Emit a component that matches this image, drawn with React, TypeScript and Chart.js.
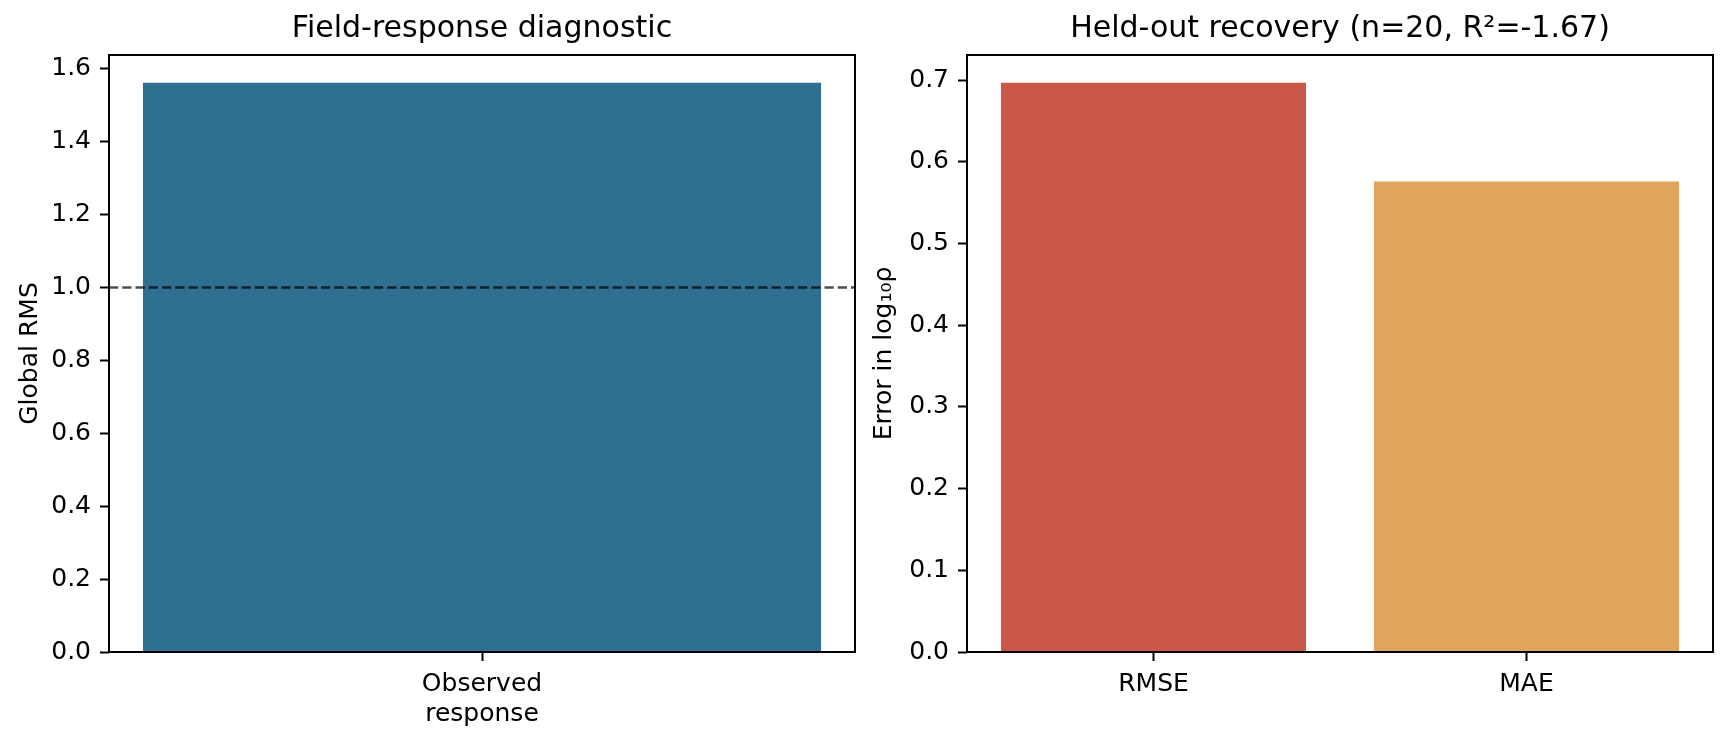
import { useEffect, useRef } from "react";
import { Chart, registerables } from "chart.js";
import type { ChartConfiguration, Plugin } from "chart.js";

Chart.register(...registerables);

// Left panel data
const LEFT_TITLE = "Field-response diagnostic";
const LEFT_CATEGORIES = [["Observed", "response"]];
const LEFT_VALUES = [1.562];
const LEFT_TICKS = [0, 0.2, 0.4, 0.6, 0.8, 1.0, 1.2, 1.4, 1.6];
const LEFT_MAX = 1.638;
const REFERENCE_RMS = 1.0;

// Right panel data
const RIGHT_TITLE = "Held-out recovery (n=20, R²=-1.67)";
const RIGHT_CATEGORIES = ["RMSE", "MAE"];
const RIGHT_VALUES = [0.697, 0.576];
const RIGHT_TICKS = [0, 0.1, 0.2, 0.3, 0.4, 0.5, 0.6, 0.7];
const RIGHT_MAX = 0.731;

const FONT = "'DejaVu Sans', sans-serif";
const H = 740;

// box around the plot area, like matplotlib spines
const framePlugin: Plugin<"bar"> = {
  id: "frame",
  afterDatasetsDraw(chart) {
    const { ctx, chartArea } = chart;
    ctx.save();
    ctx.strokeStyle = "#000";
    ctx.lineWidth = 2;
    ctx.strokeRect(
      chartArea.left,
      chartArea.top,
      chartArea.right - chartArea.left,
      chartArea.bottom - chartArea.top
    );
    ctx.restore();
  },
};

// dashed reference line (left panel only)
const refLinePlugin: Plugin<"bar"> = {
  id: "refLine",
  afterDatasetsDraw(chart) {
    const { ctx, chartArea } = chart;
    const y = chart.scales.y.getPixelForValue(REFERENCE_RMS);
    ctx.save();
    ctx.strokeStyle = "rgba(0,0,0,0.7)";
    ctx.lineWidth = 2.5;
    ctx.setLineDash([9.25, 4]);
    ctx.beginPath();
    ctx.moveTo(chartArea.left, y);
    ctx.lineTo(chartArea.right, y);
    ctx.stroke();
    ctx.restore();
  },
};

function makeConfig(opts: {
  title: string;
  labels: any[];
  values: number[];
  colors: string[];
  ticks: number[];
  max: number;
  yLabel: string;
  yAxisWidth: number;
  yLabelPad: number;
  rightPad: number;
  barPct: number;
  plugins: Plugin<"bar">[];
}): ChartConfiguration<"bar", number[], any> {
  return {
    type: "bar",
    data: {
      labels: opts.labels,
      datasets: [
        {
          data: opts.values,
          backgroundColor: opts.colors,
          borderWidth: 0,
          barPercentage: opts.barPct,
          categoryPercentage: 1,
        },
      ],
    },
    options: {
      animation: false,
      responsive: false,
      devicePixelRatio: 1,
      layout: { padding: { top: 11, left: 0, right: opts.rightPad, bottom: 0 } },
      plugins: {
        legend: { display: false },
        tooltip: { enabled: false },
        title: {
          display: true,
          text: opts.title,
          color: "#000",
          fullSize: false,
          font: { family: FONT, size: 30, weight: "normal" },
          padding: { top: 0, bottom: 8 },
        },
      },
      scales: {
        x: {
          offset: true,
          grid: {
            offset: false,
            drawOnChartArea: false,
            drawTicks: true,
            tickLength: 9,
            tickWidth: 2,
            tickColor: "#000",
          },
          border: { display: false },
          ticks: {
            color: "#000",
            font: { family: FONT, size: 25 },
            padding: 8,
            maxRotation: 0,
            autoSkip: false,
          },
          afterFit: (s: any) => {
            s.height = H - 652;
          },
        },
        y: {
          min: 0,
          max: opts.max,
          grid: {
            drawOnChartArea: false,
            drawTicks: true,
            tickLength: 9,
            tickWidth: 2,
            tickColor: "#000",
          },
          border: { display: false },
          ticks: {
            color: "#000",
            font: { family: FONT, size: 25 },
            padding: 9,
            callback: (v: any) => Number(v).toFixed(1),
          },
          afterBuildTicks: (axis: any) => {
            axis.ticks = opts.ticks.map((v) => ({ value: v }));
          },
          title: {
            display: true,
            text: opts.yLabel,
            color: "#000",
            font: { family: FONT, size: 25 },
            padding: { top: opts.yLabelPad, bottom: 0 },
          },
          afterFit: (s: any) => {
            s.width = opts.yAxisWidth;
          },
        },
      },
    },
    plugins: opts.plugins,
  };
}

function BarPanel(props: { width: number; config: ChartConfiguration<"bar", number[], any> }) {
  const ref = useRef<HTMLCanvasElement | null>(null);

  useEffect(() => {
    if (!ref.current) return;
    const chart = new Chart(ref.current, props.config);
    return () => chart.destroy();
  }, []);

  return (
    <canvas
      ref={ref}
      width={props.width}
      height={H}
      style={{ width: props.width, height: H, display: "block" }}
    />
  );
}

export default function App() {
  const left = makeConfig({
    title: LEFT_TITLE,
    labels: LEFT_CATEGORIES,
    values: LEFT_VALUES,
    colors: ["#2f7090"],
    ticks: LEFT_TICKS,
    max: LEFT_MAX,
    yLabel: "Global RMS",
    yAxisWidth: 109,
    yLabelPad: 15,
    rightPad: 860 - 855,
    barPct: 0.909,
    plugins: [refLinePlugin, framePlugin],
  });

  const right = makeConfig({
    title: RIGHT_TITLE,
    labels: RIGHT_CATEGORIES,
    values: RIGHT_VALUES,
    colors: ["#c9584a", "#e0a45a"],
    ticks: RIGHT_TICKS,
    max: RIGHT_MAX,
    yLabel: "Error in log₁₀ρ",
    yAxisWidth: 967 - 860,
    yLabelPad: 9,
    rightPad: 1730 - 1713,
    barPct: 0.818,
    plugins: [framePlugin],
  });

  return (
    <div
      style={{
        position: "absolute",
        left: 0,
        top: 0,
        width: 1730,
        height: H,
        background: "#fff",
        display: "flex",
      }}
    >
      <BarPanel width={860} config={left} />
      <BarPanel width={870} config={right} />
    </div>
  );
}
